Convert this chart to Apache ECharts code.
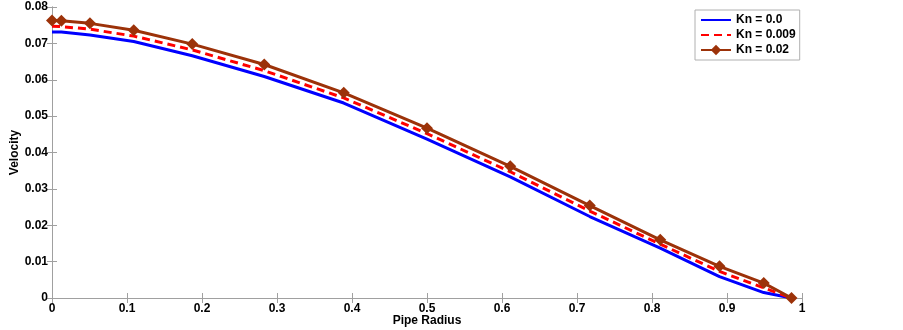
<!DOCTYPE html>
<html>
<head>
<meta charset="utf-8">
<script src="https://cdn.jsdelivr.net/npm/echarts@6/dist/echarts.min.js"></script>
<style>html,body{margin:0;padding:0;background:#fff}#c{width:903px;height:330px}</style>
</head>
<body>
<div id="c"></div>
<script>
const radius = [0, 0.0125, 0.0506, 0.109, 0.187, 0.283, 0.389, 0.5, 0.611, 0.717, 0.811, 0.890, 0.949, 0.986];
const kn0    = [0.0731, 0.0731, 0.0723, 0.0705, 0.0666, 0.0609, 0.0536, 0.0437, 0.0333, 0.0224, 0.0137, 0.0059, 0.0015, 0];
const kn009  = [0.0747, 0.0746, 0.0739, 0.0720, 0.0682, 0.0625, 0.0550, 0.0452, 0.0347, 0.0239, 0.0148, 0.0073, 0.0028, 0];
const kn02   = [0.0763, 0.0762, 0.0755, 0.0736, 0.0698, 0.0642, 0.0564, 0.0467, 0.0362, 0.0254, 0.0160, 0.0087, 0.0041, 0];
const seriesNames = ['Kn = 0.0', 'Kn = 0.009', 'Kn = 0.02'];
const xTitle = 'Pipe Radius';
const yTitle = 'Velocity';

const pairs = ys => radius.map((x, i) => [x, ys[i]]);
const font = 'Liberation Sans, Arial, sans-serif';
const axisCol = '#a0a0a0';
const lbl = {color: '#000', fontWeight: 'bold', fontSize: 12, fontFamily: font};

const chart = echarts.init(document.getElementById('c'), null, {renderer: 'canvas'});
chart.setOption({
  animation: false,
  backgroundColor: '#fff',
  grid: {left: 52, right: 101, top: 7, bottom: 32, containLabel: false, outerBoundsMode: 'none'},
  legend: {
    left: 695, top: 10, orient: 'vertical',
    itemWidth: 30, itemHeight: 13, itemGap: 1, itemTextGap: 4,
    padding: [3, 4, 3, 5],
    borderColor: '#b0b0b0', borderWidth: 1, backgroundColor: '#fff',
    textStyle: {color: '#000', fontWeight: 'bold', fontSize: 12, fontFamily: font, lineHeight: 14},
    data: [
      {name: seriesNames[0], itemStyle: {opacity: 0}},
      {name: seriesNames[1], itemStyle: {opacity: 0}},
      {name: seriesNames[2]}
    ]
  },
  xAxis: [
    {type: 'value', min: 0, max: 1, interval: 0.1, position: 'bottom',
     name: xTitle, nameLocation: 'middle', nameGap: 17, nameMoveOverlap: false, nameTextStyle: lbl,
     axisLine: {lineStyle: {color: axisCol, width: 1}},
     axisTick: {inside: true, length: 5, lineStyle: {color: axisCol}},
     axisLabel: Object.assign({margin: 5}, lbl),
     splitLine: {show: false}},
    {type: 'value', min: 0, max: 1, interval: 0.1, position: 'top',
     axisLine: {lineStyle: {color: axisCol, width: 1}},
     axisTick: {inside: true, length: 5, lineStyle: {color: axisCol}},
     axisLabel: {show: false}, splitLine: {show: false}}
  ],
  yAxis: [
    {type: 'value', min: 0, max: 0.08, interval: 0.01, position: 'left',
     name: yTitle, nameLocation: 'middle', nameGap: 31, nameMoveOverlap: false, nameTextStyle: lbl,
     axisLine: {show: true, lineStyle: {color: axisCol, width: 1}},
     axisTick: {show: true, inside: true, length: 5, lineStyle: {color: axisCol}},
     axisLabel: Object.assign({margin: 4}, lbl),
     splitLine: {show: false}},
    {type: 'value', min: 0, max: 0.08, interval: 0.01, position: 'right',
     axisLine: {show: true, lineStyle: {color: axisCol, width: 1}},
     axisTick: {show: true, inside: true, length: 5, lineStyle: {color: axisCol}},
     axisLabel: {show: false}, splitLine: {show: false}}
  ],
  series: [
    {name: seriesNames[0], type: 'line', data: pairs(kn0), showSymbol: false, symbol: 'none',
     color: '#0000ff', lineStyle: {color: '#0000ff', width: 3}},
    {name: seriesNames[1], type: 'line', data: pairs(kn009), showSymbol: false, symbol: 'none',
     color: '#ff0000', lineStyle: {color: '#ff0000', width: 3, type: [8, 5]}},
    {name: seriesNames[2], type: 'line', data: pairs(kn02), symbol: 'diamond', symbolSize: 12,
     color: '#9c3209', itemStyle: {color: '#9c3209'}, lineStyle: {color: '#9c3209', width: 3}}
  ]
});
</script>
</body>
</html>
